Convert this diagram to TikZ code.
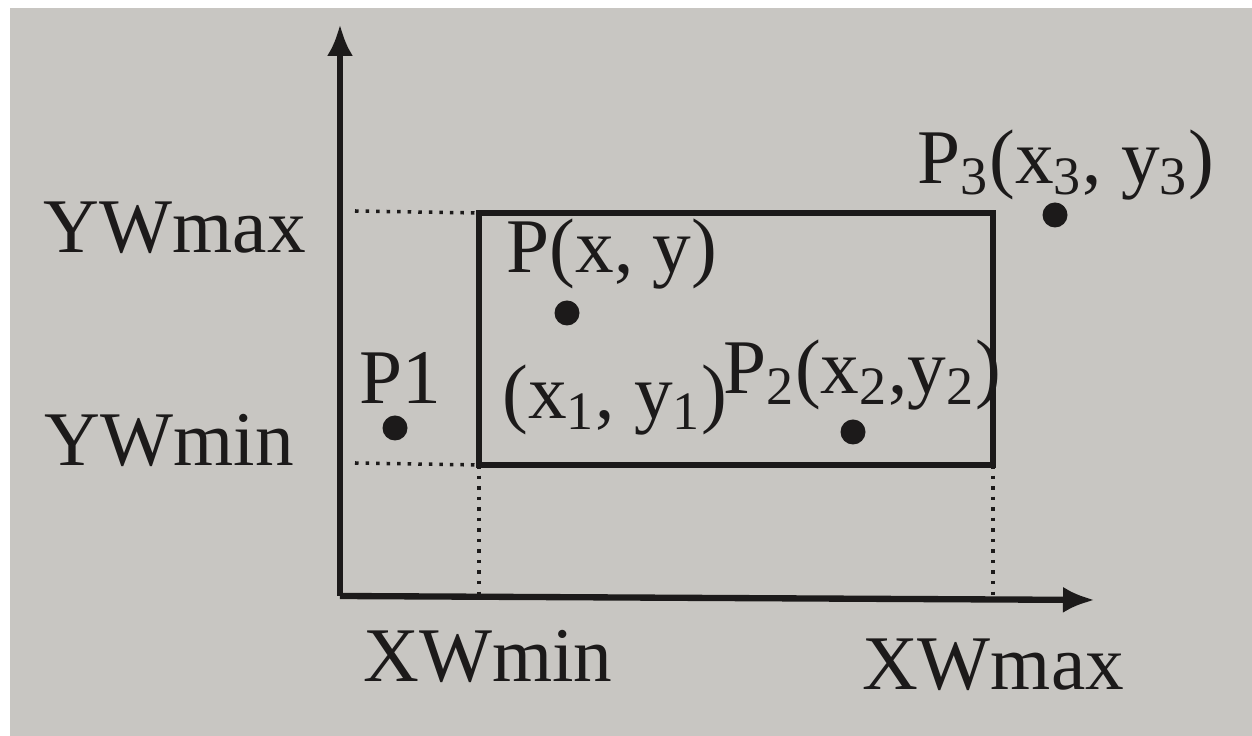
\documentclass[tikz,border=0pt]{standalone}
\usepackage{fontspec}
\setmainfont{Liberation Serif}
\usepackage{xcolor}
\usepackage{tikz}
\usetikzlibrary{positioning, arrows.meta}
\definecolor{paper}{RGB}{200,198,194}
\definecolor{ink}{RGB}{28,26,26}

\begin{document}
\begin{tikzpicture}[
    lbl/.style={inner sep=1pt, text=ink, font=\fontsize{22}{24}\selectfont},
    pt/.style={circle, fill=ink, inner sep=0pt, minimum size=0.25cm},
    axis/.style={-{Latex[length=3.2mm, width=2.6mm]}, line width=1.8pt, draw=ink},
    guide/.style={dotted, line width=1pt, draw=ink}
  ]
    \fill[white] (0,0) rectangle (12.52,7.36);
    \fill[paper] (0.1,0) rectangle (12.52,7.28);
    \useasboundingbox (0,0) rectangle (12.52,7.36);
    % axes
    \coordinate (o)  at (3.40,1.40);
    \coordinate (yt) at (3.40,7.12);
    \coordinate (xt) at (10.95,1.36);
    \draw[axis] (o) -- (yt);
    \draw[axis] (o) -- (xt);
    % window
    \coordinate (wsw) at (4.79,2.71);
    \coordinate (wne) at (9.93,5.23);
    \draw[ink, line width=1.5pt] (wsw) rectangle (wne);
    % guides
    \draw[guide] (3.55,5.25) -- (wsw |- wne);
    \draw[guide] (3.55,2.73) -- (wsw);
    \draw[guide] (wsw) -- (wsw |- o);
    \draw[guide] (wne |- wsw) -- (wne |- o);
    % axis labels
    \node[lbl, anchor=east] (ywmax) at (3.10,5.08) {YWmax};
    \node[lbl, anchor=east] (ywmin) at (2.98,2.96) {YWmin};
    \node[lbl] (xwmin) at (4.88,0.80) {XWmin};
    \node[lbl] (xwmax) at (9.93,0.71) {XWmax};
    % points
    \node[pt] (p1) at (3.95,3.08) {};
    \node[lbl] (p1l) at (4.00,3.58) {P1};
    \node[pt] (p) at (5.67,4.23) {};
    \node[lbl] (pl) at (6.12,4.82) {P(x, y)};
    \node[lbl] (x1l) at (6.15,3.36) {(x\textsubscript{1}, y\textsubscript{1})};
    \node[pt] (p2) at (8.53,3.04) {};
    \node[lbl] (p2l) at (8.62,3.61) {P\textsubscript{2}(x\textsubscript{2},y\textsubscript{2})};
    \node[pt] (p3) at (10.55,5.21) {};
    \node[lbl] (p3l) at (10.66,5.71) {P\textsubscript{3}(x\textsubscript{3}, y\textsubscript{3})};
  \end{tikzpicture}
\end{document}
